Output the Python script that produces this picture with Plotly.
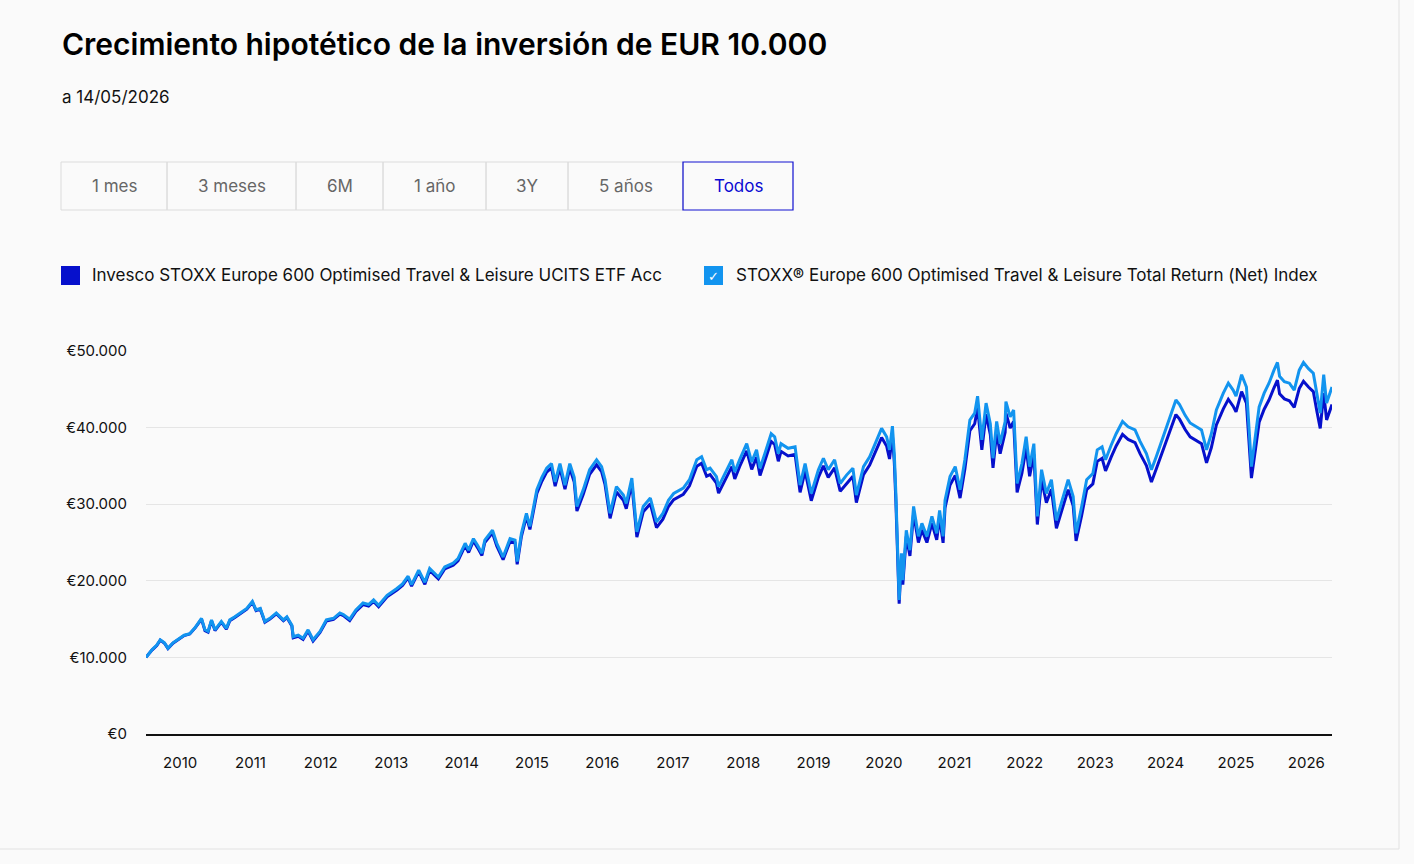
import plotly.graph_objects as go

# ---------------- data ----------------
dates = [
    "2009-07-08", "2009-08-08", "2009-09-02", "2009-09-20", "2009-10-12", "2009-10-30", "2009-11-25", "2009-12-24",
    "2010-01-22", "2010-02-20", "2010-03-20", "2010-04-22", "2010-05-10", "2010-05-26", "2010-06-13", "2010-07-01",
    "2010-08-03", "2010-08-29", "2010-09-16", "2010-10-12", "2010-11-07", "2010-12-13",
    "2011-01-11", "2011-01-30", "2011-02-21", "2011-03-17", "2011-04-12", "2011-05-15", "2011-06-21", "2011-07-09",
    "2011-08-04", "2011-08-11", "2011-09-06", "2011-10-01", "2011-10-27", "2011-11-22", "2011-12-28",
    "2012-01-30", "2012-03-07", "2012-04-09", "2012-04-27", "2012-05-30", "2012-07-01", "2012-08-07", "2012-09-05",
    "2012-10-01", "2012-10-27", "2012-12-10",
    "2013-01-30", "2013-02-28", "2013-03-29", "2013-04-16", "2013-05-23", "2013-06-24", "2013-07-19", "2013-08-10",
    "2013-09-02", "2013-10-05", "2013-11-18", "2013-12-13",
    "2014-01-19", "2014-02-06", "2014-03-03", "2014-03-25", "2014-04-16", "2014-05-01", "2014-06-10", "2014-07-02",
    "2014-08-04", "2014-09-09", "2014-10-05", "2014-10-16", "2014-11-07", "2014-12-03", "2014-12-21",
    "2015-01-08", "2015-01-26", "2015-02-21", "2015-03-18", "2015-04-12", "2015-05-01", "2015-05-26", "2015-06-21",
    "2015-07-16", "2015-08-08", "2015-08-22", "2015-09-24", "2015-10-27", "2015-12-02", "2015-12-28",
    "2016-01-15", "2016-02-10", "2016-03-14", "2016-04-19", "2016-05-04", "2016-06-02", "2016-06-28", "2016-07-31",
    "2016-09-06", "2016-10-08", "2016-11-10", "2016-12-09",
    "2017-01-05", "2017-02-24", "2017-03-28", "2017-05-05", "2017-05-30", "2017-06-25", "2017-07-13", "2017-08-15",
    "2017-08-26", "2017-09-28", "2017-11-03", "2017-11-18", "2017-12-13",
    "2018-01-19", "2018-02-14", "2018-03-11", "2018-03-29", "2018-04-23", "2018-05-26", "2018-06-13", "2018-07-02",
    "2018-07-16", "2018-08-22", "2018-09-27", "2018-10-23", "2018-11-18", "2018-12-20",
    "2019-01-26", "2019-02-21", "2019-03-18", "2019-04-20", "2019-05-19", "2019-06-21", "2019-07-24", "2019-08-11",
    "2019-09-17", "2019-10-19", "2019-11-25", "2019-12-20",
    "2020-01-15", "2020-01-30", "2020-02-14", "2020-02-24", "2020-03-03", "2020-03-13", "2020-03-20", "2020-04-01",
    "2020-04-08", "2020-04-26", "2020-05-15", "2020-06-03", "2020-06-28", "2020-07-16", "2020-08-11", "2020-09-06",
    "2020-10-01", "2020-10-16", "2020-11-03", "2020-11-13", "2020-12-09",
    "2021-01-05", "2021-01-30", "2021-02-24", "2021-03-22", "2021-04-16", "2021-05-01", "2021-05-23", "2021-06-14",
    "2021-07-06", "2021-07-20", "2021-08-08", "2021-08-26", "2021-09-21", "2021-09-25", "2021-10-17", "2021-11-04",
    "2021-11-22", "2021-12-17",
    "2022-01-08", "2022-01-26", "2022-02-17", "2022-03-07", "2022-03-29", "2022-04-23", "2022-05-19", "2022-06-14",
    "2022-07-09", "2022-08-14", "2022-09-09", "2022-09-24", "2022-10-23", "2022-11-18", "2022-12-20",
    "2023-01-12", "2023-02-06", "2023-02-24", "2023-03-25", "2023-04-20", "2023-05-23", "2023-06-21", "2023-07-27",
    "2023-08-22", "2023-09-24", "2023-10-20", "2023-11-14", "2023-12-20",
    "2024-01-23", "2024-02-24", "2024-03-14", "2024-04-12", "2024-05-08", "2024-06-10", "2024-07-06", "2024-08-01",
    "2024-08-26", "2024-09-21", "2024-10-27", "2024-11-22", "2024-12-17",
    "2025-01-01", "2025-01-30", "2025-02-24", "2025-03-07", "2025-03-22", "2025-04-13", "2025-05-01", "2025-05-27",
    "2025-06-21", "2025-07-17", "2025-08-04", "2025-08-15", "2025-09-09", "2025-10-05", "2025-10-30", "2025-11-25",
    "2025-12-17",
    "2026-01-12", "2026-02-06", "2026-02-24", "2026-03-14", "2026-04-01", "2026-04-16", "2026-05-14",
]

# STOXX Europe 600 Optimised Travel & Leisure Net Return index (thousand EUR)
index_k = [
    10.0, 11.0, 11.6, 12.3, 11.9, 11.2, 11.9, 12.4,
    12.9, 13.1, 13.9, 15.1, 13.6, 13.4, 14.9, 13.6,
    14.7, 13.8, 14.9, 15.3, 15.8, 16.4,
    17.3, 16.2, 16.4, 14.7, 15.1, 15.8, 14.9, 15.3,
    14.2, 12.7, 12.9, 12.5, 13.6, 12.3, 13.4,
    14.9, 15.1, 15.8, 15.6, 15.0, 16.2, 17.1, 16.9,
    17.5, 16.8, 18.1,
    19.0, 19.6, 20.6, 19.5, 21.4, 19.8, 21.6, 21.0,
    20.5, 21.8, 22.3, 22.9,
    24.9, 24.0, 25.5, 24.6, 23.6, 25.3, 26.6, 24.9,
    23.1, 25.5, 25.3, 22.5, 26.2, 28.8, 27.1,
    29.5, 31.9, 33.5, 34.7, 35.3, 32.9, 35.3, 32.5,
    35.3, 33.5, 29.7, 31.9, 34.5, 35.8, 34.9,
    33.2, 28.8, 32.3, 31.2, 30.1, 33.4, 26.4, 29.7,
    30.8, 27.7, 28.8, 30.5,
    31.4, 32.1, 33.2, 35.8, 36.2, 34.5, 34.7, 33.6,
    32.3, 34.0, 35.8, 34.2, 35.8,
    37.9, 35.5, 37.1, 34.7, 36.6, 39.2, 38.8, 36.6,
    37.9, 37.3, 37.5, 32.5, 35.3, 31.4,
    34.5, 36.0, 34.5, 35.8, 32.7, 33.8, 34.7, 31.2,
    34.9, 36.2, 38.4, 39.9,
    38.8, 37.1, 40.2, 36.5, 31.4, 22.0, 17.5, 23.6,
    20.1, 26.6, 24.0, 29.7, 25.8, 27.5, 25.8, 28.4,
    26.2, 29.2, 25.8, 30.5, 33.6,
    34.9, 31.9, 35.8, 41.0, 41.9, 44.1, 38.4, 43.2,
    40.5, 36.0, 40.8, 37.9, 40.8, 43.4, 41.4, 42.3,
    32.7, 35.3,
    38.8, 34.9, 37.9, 28.4, 34.5, 31.4, 33.2, 27.9,
    30.1, 33.2, 31.0, 26.2, 29.7, 33.2, 34.0,
    37.1, 37.5, 35.8, 37.7, 39.2, 40.8, 40.1, 39.7,
    38.2, 36.6, 34.5, 36.2, 38.8,
    41.0, 43.6, 43.0, 41.6, 40.6, 40.1, 39.7, 37.1,
    39.2, 42.3, 44.5, 45.8, 44.9,
    44.1, 46.9, 45.3, 41.4, 34.9, 39.2, 42.7, 44.5,
    45.8, 47.5, 48.5, 46.7, 46.0, 45.8, 44.9, 47.5,
    48.5,
    47.7, 47.1, 44.5, 41.9, 46.9, 43.2, 45.3,
]

# Invesco STOXX Europe 600 Optimised Travel & Leisure UCITS ETF Acc (thousand EUR)
etf_k = [
    10.0, 10.95, 11.55, 12.25, 11.85, 11.15, 11.85, 12.35,
    12.85, 13.05, 13.85, 15.0, 13.5, 13.3, 14.8, 13.5,
    14.6, 13.7, 14.8, 15.2, 15.7, 16.3,
    17.2, 16.1, 16.3, 14.6, 15.0, 15.7, 14.8, 15.2,
    14.1, 12.55, 12.75, 12.35, 13.45, 12.15, 13.25,
    14.75, 14.95, 15.65, 15.45, 14.8, 16.0, 16.9, 16.7,
    17.3, 16.6, 17.9,
    18.8, 19.4, 20.4, 19.3, 21.2, 19.55, 21.35, 20.75,
    20.25, 21.55, 22.05, 22.6,
    24.6, 23.7, 25.2, 24.3, 23.3, 25.0, 26.25, 24.55,
    22.75, 25.15, 24.95, 22.15, 25.8, 28.4, 26.7,
    29.05, 31.4, 33.0, 34.2, 34.75, 32.35, 34.75, 31.95,
    34.7, 32.9, 29.1, 31.3, 33.9, 35.15, 34.25,
    32.55, 28.15, 31.6, 30.5, 29.4, 32.7, 25.7, 29.0,
    30.05, 26.95, 28.05, 29.7,
    30.6, 31.3, 32.4, 34.95, 35.35, 33.65, 33.85, 32.75,
    31.45, 33.1, 34.9, 33.3, 34.9,
    36.95, 34.55, 36.15, 33.75, 35.65, 38.2, 37.8, 35.6,
    36.9, 36.3, 36.5, 31.55, 34.3, 30.45,
    33.5, 35.0, 33.5, 34.75, 31.7, 32.75, 33.65, 30.2,
    33.85, 35.1, 37.25, 38.7,
    37.6, 35.9, 39.0, 35.4, 30.4, 21.3, 17.0, 22.9,
    19.5, 25.8, 23.25, 28.8, 25.0, 26.65, 25.0, 27.5,
    25.35, 28.25, 24.95, 29.5, 32.5,
    33.75, 30.8, 34.6, 39.6, 40.5, 42.6, 37.1, 41.75,
    39.1, 34.75, 39.4, 36.6, 39.4, 41.9, 39.95, 40.8,
    31.55, 34.05,
    37.4, 33.65, 36.5, 27.35, 33.2, 30.2, 31.95, 26.85,
    28.95, 31.9, 29.8, 25.2, 28.55, 31.9, 32.65,
    35.6, 36.0, 34.35, 36.15, 37.6, 39.1, 38.45, 38.05,
    36.6, 35.05, 32.9, 34.6, 37.1,
    39.2, 41.7, 41.1, 39.75, 38.8, 38.3, 37.9, 35.4,
    37.4, 40.35, 42.45, 43.7, 42.8,
    42.05, 44.7, 43.2, 39.45, 33.4, 37.35, 40.7, 42.4,
    43.6, 45.2, 46.2, 44.4, 43.75, 43.5, 42.65, 45.1,
    46.05,
    45.3, 44.7, 42.2, 39.9, 44.5, 41.0, 43.0,
]

y_tick_values = [0, 10000, 20000, 30000, 40000, 50000]
y_tick_labels = ["€0", "€10.000", "€20.000", "€30.000", "€40.000", "€50.000"]
x_tick_years = list(range(2010, 2027))
x_tick_labels = [str(y) for y in x_tick_years]

range_buttons = ["1 mes", "3 meses", "6M", "1 año", "3Y", "5 años", "Todos"]
series_names = [
    "Invesco STOXX Europe 600 Optimised Travel & Leisure UCITS ETF Acc",
    "STOXX® Europe 600 Optimised Travel & Leisure Total Return (Net) Index",
]

# ---------------- styling / layout ----------------
W, H = 1414, 864
PL, PR, PT, PB = 146, 1332, 351, 734
DARK = "#0610CC"
LIGHT = "#1294EF"
FONT = "Inter"


def px(x):
    return (x - PL) / (PR - PL)


def py(y):
    return (PB - y) / (PB - PT)


fig = go.Figure()
fig.add_trace(go.Scatter(
    x=dates, y=[v * 1000 for v in etf_k], mode="lines", name=series_names[0],
    line=dict(color=DARK, width=3), showlegend=False,
))
fig.add_trace(go.Scatter(
    x=dates, y=[v * 1000 for v in index_k], mode="lines", name=series_names[1],
    line=dict(color=LIGHT, width=3), showlegend=False,
))

shapes = []
annotations = []

# card border
shapes.append(dict(type="rect", xref="paper", yref="paper",
                   x0=px(-2), x1=px(1399), y0=py(849), y1=py(-2),
                   line=dict(color="#e2e2e2", width=1), fillcolor="rgba(0,0,0,0)", layer="below"))

# title & subtitle
annotations.append(dict(text="Crecimiento hipotético de la inversión de EUR 10.000",
                        x=px(60), y=py(44), xref="paper", yref="paper",
                        xanchor="left", yanchor="middle", showarrow=False,
                        font=dict(family=FONT, size=30, color="#000", weight=600)))
annotations.append(dict(text="a 14/05/2026", x=px(60), y=py(97), xref="paper", yref="paper",
                        xanchor="left", yanchor="middle", showarrow=False,
                        font=dict(family=FONT, size=17, color="#111")))

# range buttons
edges = [61, 167, 296, 383, 486, 568, 683, 793]
for i, lab in enumerate(range_buttons):
    x0, x1 = edges[i], edges[i + 1]
    selected = lab == "Todos"
    if not selected:
        shapes.append(dict(type="rect", xref="paper", yref="paper",
                           x0=px(x0), x1=px(x1), y0=py(210), y1=py(162),
                           line=dict(color="#dcdcdc", width=1), fillcolor="rgba(0,0,0,0)"))
    annotations.append(dict(text=lab, x=px((x0 + x1) / 2), y=py(186), xref="paper", yref="paper",
                            xanchor="center", yanchor="middle", showarrow=False,
                            font=dict(family=FONT, size=17, color="#0a0ad2" if selected else "#666")))
shapes.append(dict(type="rect", xref="paper", yref="paper",
                   x0=px(683), x1=px(793), y0=py(210), y1=py(162),
                   line=dict(color="#1010d0", width=1.2), fillcolor="rgba(0,0,0,0)"))

# legend
shapes.append(dict(type="rect", xref="paper", yref="paper",
                   x0=px(61), x1=px(80), y0=py(285), y1=py(266),
                   line=dict(width=0), fillcolor=DARK))
shapes.append(dict(type="rect", xref="paper", yref="paper",
                   x0=px(704), x1=px(723), y0=py(285), y1=py(266),
                   line=dict(width=0), fillcolor=LIGHT))
annotations.append(dict(text="✓", x=px(713.5), y=py(276), xref="paper", yref="paper",
                        xanchor="center", yanchor="middle", showarrow=False,
                        font=dict(family="DejaVu Sans", size=13, color="#fff")))
annotations.append(dict(text=series_names[0], x=px(90), y=py(275), xref="paper", yref="paper",
                        xanchor="left", yanchor="middle", showarrow=False,
                        font=dict(family=FONT, size=17, color="#111")))
annotations.append(dict(text=series_names[1], x=px(734), y=py(275), xref="paper", yref="paper",
                        xanchor="left", yanchor="middle", showarrow=False,
                        font=dict(family=FONT, size=17, color="#111")))

fig.update_layout(
    width=W, height=H,
    margin=dict(l=PL, r=W - PR, t=PT, b=H - PB),
    paper_bgcolor="#fafafa", plot_bgcolor="#fafafa",
    shapes=shapes, annotations=annotations,
    hovermode="x unified",
    xaxis=dict(
        type="date", range=[dates[0], dates[-1]],
        tickvals=[f"{y}-01-01" for y in x_tick_years], ticktext=x_tick_labels,
        showgrid=False, zeroline=False, showline=True, linecolor="#111", linewidth=2,
        ticks="", ticklabelstandoff=14,
        tickfont=dict(family=FONT, size=15, color="#111"),
    ),
    yaxis=dict(
        range=[0, 50000], tickvals=y_tick_values, ticktext=y_tick_labels,
        showgrid=True, gridcolor="#e5e5e5", gridwidth=1, zeroline=False, showline=False,
        ticks="", ticklabelstandoff=18,
        tickfont=dict(family=FONT, size=15, color="#111"),
    ),
)

fig.write_html("out.html")
